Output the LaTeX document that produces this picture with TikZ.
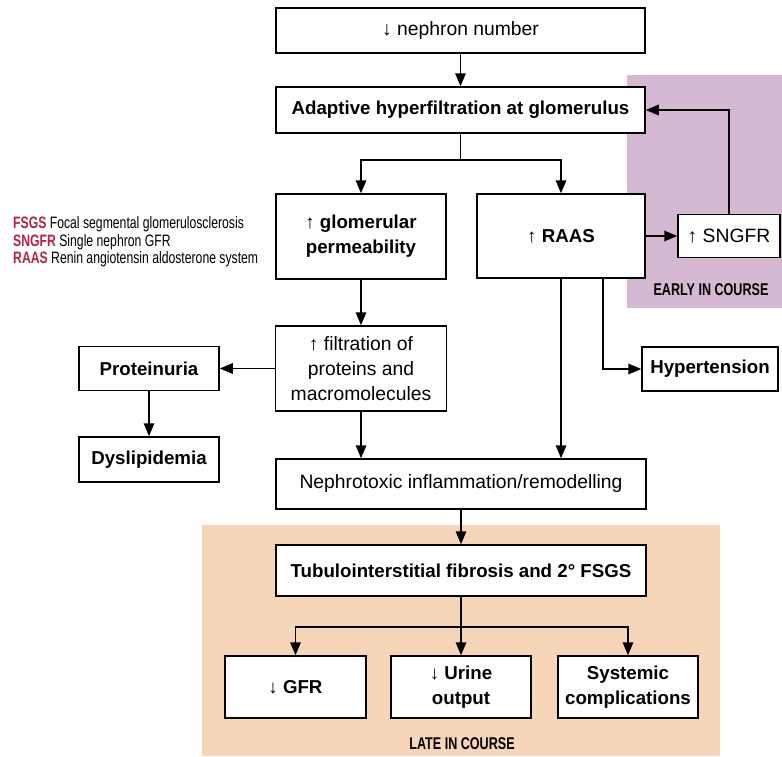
\documentclass[tikz,border=0pt]{standalone}
\usepackage{fontspec}
\setmainfont{Liberation Sans}
\newfontfamily\cond[FakeStretch=0.74]{Liberation Sans}
\usetikzlibrary{arrows.meta}
\definecolor{early}{HTML}{D5B8D1}
\definecolor{late}{HTML}{F7D5B8}
\definecolor{abbr}{HTML}{B22545}
\begin{document}
\begin{tikzpicture}[x=1pt,y=-1pt,
  box/.style={draw, line width=1.5pt, fill=white, inner sep=0pt, align=center, font=\fontsize{19.3}{25}\selectfont},
  bbox/.style={box, font=\fontsize{18.7}{25}\selectfont\bfseries},
  conn/.style={line width=1.6pt, -{Triangle[length=13pt,width=10.5pt]}},
  plain/.style={line width=1.6pt},
  tag/.style={inner sep=0pt, font=\cond\fontsize{17}{17}\selectfont\bfseries}
  ]
\useasboundingbox (0,0) rectangle (782,756);
\fill[white] (0,0) rectangle (782,756);
\fill[early] (627,75) rectangle (782,308);
\fill[late] (202,525) rectangle (720,756);

\node[box, minimum width=369pt, minimum height=45pt] (neph) at (460.5,30.5) {↓ nephron number};
\node[bbox, minimum width=369pt, minimum height=46pt] (adapt) at (460.5,110) {Adaptive hyperfiltration at glomerulus};
\node[bbox, minimum width=170pt, minimum height=85pt] (glom) at (361,236.5) {↑ glomerular\\permeability};
\node[bbox, minimum width=168pt, minimum height=84pt] (raas) at (561,236) {↑ RAAS};
\node[box, minimum width=102pt, minimum height=43pt] (sngfr) at (729,236) {↑ SNGFR};
\node[box, minimum width=171pt, minimum height=85pt] (filt) at (361,368.5) {↑ filtration of\\proteins and\\macromolecules};
\node[bbox, minimum width=140pt, minimum height=44pt] (prot) at (149,368.5) {Proteinuria};
\node[bbox, minimum width=140pt, minimum height=45pt] (dys) at (149,459.5) {Dyslipidemia};
\node[bbox, minimum width=136pt, minimum height=44pt] (hyp) at (710,369) {Hypertension};
\node[box, minimum width=370pt, minimum height=50pt] (nephro) at (461,484) {Nephrotoxic inflammation/remodelling};
\node[bbox, minimum width=370pt, minimum height=51pt] (tub) at (461,570.5) {Tubulointerstitial fibrosis and 2° FSGS};
\node[bbox, minimum width=141pt, minimum height=62pt] (gfr) at (295.5,687) {↓ GFR};
\node[bbox, minimum width=140pt, minimum height=62pt] (urine) at (461,687) {↓ Urine\\output};
\node[bbox, minimum width=140pt, minimum height=62pt] (sys) at (628,687) {Systemic\\complications};

\node[tag] (early) at (711,290) {EARLY IN COURSE};
\node[tag] (late) at (462,744) {LATE IN COURSE};
\node[anchor=west, inner sep=0pt, align=left, font=\cond\fontsize{16.5}{17.5}\selectfont] (legend) at (13,242)
  {\textcolor{abbr}{\bfseries FSGS} Focal segmental glomerulosclerosis\\
   \textcolor{abbr}{\bfseries SNGFR} Single nephron GFR\\
   \textcolor{abbr}{\bfseries RAAS} Renin angiotensin aldosterone system};

\draw[conn] (neph) -- (adapt);
\coordinate (split1) at (460.5,160);
\draw[plain] (adapt.south) -- (split1);
\draw[conn] (split1) -| (glom.north);
\draw[conn] (split1) -| (raas.north);
\draw[conn] (raas.east) -- (sngfr.west);
\draw[conn] (sngfr.north) |- (adapt.east);
\draw[conn] (glom) -- (filt);
\draw[conn] (filt.west) -- (prot.east);
\draw[conn] (prot) -- (dys);
\draw[conn] (raas.south) -- (raas.south |- nephro.north);
\draw[conn] ([xshift=42pt]raas.south) |- (hyp.west);
\draw[conn] (filt.south) -- (filt.south |- nephro.north);
\draw[conn] (nephro) -- (tub);
\coordinate (split2) at (461,627);
\draw[plain] (tub.south) -- (split2);
\draw[conn] (split2) -| (gfr.north);
\draw[conn] (split2) -- (urine.north);
\draw[conn] (split2) -| (sys.north);
\end{tikzpicture}
\end{document}
